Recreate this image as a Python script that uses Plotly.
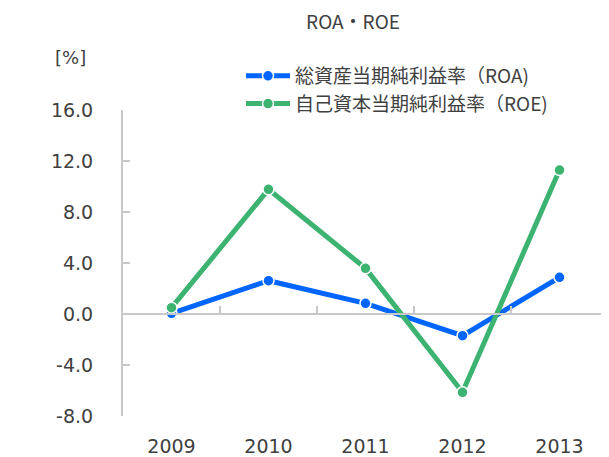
import plotly.graph_objects as go

years = ["2009", "2010", "2011", "2012", "2013"]
roa = [0.05, 2.61, 0.84, -1.70, 2.88]
roe = [0.50, 9.78, 3.58, -6.14, 11.29]
names = ["総資産当期純利益率（ROA)", "自己資本当期純利益率（ROE)"]
colors = ["#0066ff", "#3cb371"]
y_ticks = [-8, -4, 0, 4, 8, 12, 16]

fig = go.Figure()
for vals, name, col in zip([roa, roe], names, colors):
    fig.add_trace(go.Scatter(
        x=years, y=vals, name=name, mode="lines+markers",
        line=dict(color=col, width=5),
        marker=dict(size=11, color=col, line=dict(color="white", width=1.5)),
    ))

# page body has an 8px default margin, so the figure is drawn at (8, 8)
OFF = 8
W, H = 609 - OFF, 457 - OFF
ml, mt = 123 - OFF, 110 - OFF
PW, PH = 485, 306
mr, mb = W - ml - PW, H - mt - PH
zero_frac = (0 - (-8)) / (16 - (-8))
NUM_FONT = "DejaVu Sans"
JP_FONT = "Noto Sans CJK JP"
TXT = "#404040"

fig.update_layout(
    width=W, height=H,
    margin=dict(l=ml, r=mr, t=mt, b=mb, autoexpand=False),
    paper_bgcolor="white", plot_bgcolor="white",
    font=dict(family=NUM_FONT, size=19, color=TXT),
    title=dict(text="ROA・ROE", x=(353 - OFF) / W, xanchor="center",
               y=1 - (22 - OFF) / H, yanchor="middle",
               xref="container", yref="container",
               font=dict(family=JP_FONT, size=19, color=TXT)),
    legend=dict(xref="container", yref="container",
                x=(243 - OFF - 2) / W, xanchor="left", y=1 - (57 - OFF) / H, yanchor="top",
                font=dict(family=JP_FONT, size=19, color=TXT),
                bgcolor="rgba(0,0,0,0)", itemwidth=44, tracegroupgap=0),
    showlegend=True,
    xaxis=dict(type="category", range=[-0.5, 4.5], anchor="free", position=zero_frac,
               automargin=False,
               showline=True, linecolor="#c8c8c8", linewidth=2,
               ticks="inside", tickson="boundaries", ticklen=7, tickcolor="#c8c8c8", tickwidth=2,
               showgrid=False, zeroline=False, ticklabelstandoff=115,
               tickfont=dict(family=NUM_FONT, size=19, color=TXT)),
    yaxis=dict(range=[-8, 16], tickvals=y_ticks, ticktext=[f"{v:.1f}" for v in y_ticks],
               automargin=False,
               showline=True, linecolor="#c8c8c8", linewidth=2,
               ticks="inside", ticklen=7, tickcolor="#c8c8c8", tickwidth=2,
               showgrid=False, zeroline=False, ticklabelstandoff=24,
               tickfont=dict(family=NUM_FONT, size=19, color=TXT)),
    annotations=[dict(text="[%]", x=(70 - OFF - ml) / PW, y=1 + (mt - (58 - OFF)) / PH,
                      xref="paper", yref="paper",
                      showarrow=False, xanchor="center", yanchor="middle",
                      font=dict(family=NUM_FONT, size=18, color=TXT))],
)

fig.write_html("out.html")
